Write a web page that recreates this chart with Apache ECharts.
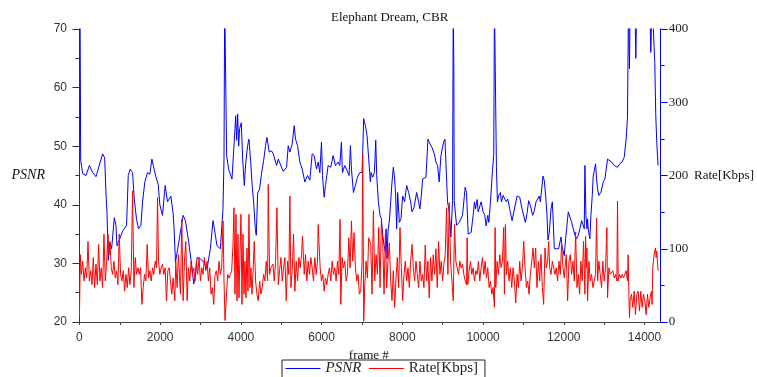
<!DOCTYPE html>
<html>
<head>
<meta charset="utf-8">
<script src="https://cdn.jsdelivr.net/npm/echarts@6/dist/echarts.min.js"></script>
<style>
  html, body { margin: 0; padding: 0; background: #fff; }
  #chart { width: 757px; height: 377px; }
</style>
</head>
<body>
<div id="chart"></div>
<script>
// PSNR per frame, [frame, dB]; values above 70 leave the plot (clipped)
var psnrPoints = [
  [15,75],[31,47.6],[81,45.3],[163,45],[246,46.7],[328,45.5],[410,44.8],[575,48.7],[625,48],[658,42],[682,38.8],[715,30.5],[756,33.5],[798,32.5],[864,37.8],[905,36.5],[930,33],[987,34],[1070,35.5],[1168,36.5],[1210,45],[1259,46.1],[1317,45.5],[1358,41],[1416,37.5],[1465,35.9],[1523,36.5],[1564,40.5],[1622,44],[1688,45.5],[1745,45.2],[1795,47.8],[1836,46.5],[1894,44.8],[1951,43.5],[1993,40],[2058,38.2],[2124,43.3],[2182,40.5],[2264,41.5],[2322,38.5],[2345,36],
  [2380,30.2],[2462,33.6],[2569,38.2],[2626,37.3],[2709,33.6],[2791,29.1],[2832,26.5],[2874,27.9],[2915,31],[2997,30.8],[3080,30.2],[3162,29.1],[3244,32.5],[3310,37.3],[3343,35.9],[3409,33],[3492,32.5],[3557,39.3],[3582,48],[3599,75],[3632,75],[3648,48.4],[3698,46],[3780,44.4],[3821,44.5],[3854,53],[3871,55.2],[3895,51],[3920,55.5],[3945,50],[3969,53],[4011,54],[4044,47.8],[4085,43.3],[4118,47],[4167,50.1],[4200,51.2],[4241,47.5],[4283,43],[4316,40.5],[4357,35.9],[4382,34.8],[4415,42],[4464,42.7],[4514,45.5],[4563,47.5],[4612,50.1],[4645,51.5],[4703,49],[4760,49.2],
  [4802,48.7],[4885,46.7],[4926,47.8],[5049,45.7],[5132,46.4],[5173,50.1],[5214,49],[5272,50.4],[5321,53.5],[5354,51.2],[5404,50.1],[5461,47.3],[5519,46.1],[5585,43.9],[5651,45],[5709,44.2],[5766,48.7],[5816,48.4],[5873,46.1],[5915,47.3],[5956,45.5],[5997,50.7],[6022,45],[6063,41.3],[6096,43.3],[6162,46.7],[6228,46.4],[6285,48.4],[6343,46.7],[6409,47.3],[6450,46.7],[6491,50.7],[6516,45.5],[6574,46.7],[6631,45.8],[6681,45],[6714,50.1],[6739,46.1],[6788,42.1],[6837,43.3],[6887,44.7],[6945,45.5],[7002,45.5],[7043,54.7],[7085,53.5],[7126,51.8],[7167,47.8],[7208,43.9],
  [7225,45.5],[7266,44.7],[7308,45.5],[7341,51],[7365,45],[7406,40.5],[7448,38.2],[7481,37.6],[7514,34.8],[7547,33.1],[7580,31.9],[7596,35.9],[7621,30.8],[7645,35.5],[7678,37.2],[7711,40.5],[7744,43.9],[7777,46.4],[7810,44.4],[7835,41.5],[7860,35.9],[7884,42.1],[7926,37],[7967,37.6],[8008,41.5],[8057,40.5],[8107,43.3],[8156,42.1],[8206,40.5],[8239,38.8],[8288,39.5],[8354,42.1],[8404,40.5],[8436,39.3],[8469,41.5],[8502,44.4],[8585,44.7],[8634,51.2],[8684,50.4],[8733,49.8],[8791,48.7],[8832,47.3],[8873,46.7],[8914,43.9],[8956,48.4],[9022,50.7],[9055,51.2],[9079,47.3],[9120,40.5],[9162,38.8],[9203,34.5],[9244,40.7],[9261,75],[9277,62],[9285,40.7],[9310,40.8],[9343,36.5],[9409,37],[9491,38.2],[9557,43],[9590,42.1],
  [9631,35],[9705,35.3],[9754,38.2],[9787,40.5],[9812,39.3],[9853,40.9],[9878,38.8],[9919,39],[9952,40.5],[10002,38.8],[10043,38.2],[10076,36.4],[10117,38.2],[10142,37],[10183,40.5],[10224,44.9],[10265,48.7],[10282,75],[10315,75],[10331,46.4],[10356,40.5],[10389,41.6],[10430,42.1],[10455,40.5],[10496,41.6],[10537,41],[10578,40.5],[10611,41],[10661,39.3],[10718,37.3],[10760,37.6],[10842,41.5],[10908,41.3],[10966,39.3],[11048,37],[11089,38.5],[11130,40.7],[11172,39.9],[11229,38.2],[11270,39],[11312,40.5],[11353,40.7],[11394,41.5],[11419,40.5],[11485,44.9],[11518,44.1],[11551,41.5],[11584,38.2],[11608,34],[11641,35.3],[11683,39.3],[11716,40.5],[11732,38.2],[11765,32.5],[11806,32.2],[11872,32.5],[11930,34.5],[11954,33],[12012,31.3],
  [12045,34.2],[12070,35.9],[12111,38.8],[12153,39],[12194,37],[12235,35.9],[12276,34.8],[12317,34.2],[12359,34.8],[12400,35.9],[12441,37.3],[12482,37.6],[12507,35.9],[12523,46.7],[12548,38.2],[12573,35.9],[12589,37.6],[12606,35.9],[12630,34.8],[12647,34.2],[12672,38.2],[12705,41.6],[12729,44.9],[12754,44.9],[12787,47],[12812,44.4],[12836,42.7],[12869,41.6],[12919,42.1],[12977,43.9],[13018,44.4],[13051,46.1],[13084,47.8],[13125,48.1],[13183,47.3],[13249,46.7],[13331,46.4],[13389,47],[13446,47.3],[13496,48.1],[13529,48.4],[13545,51.2],[13578,55],[13603,75],[13627,63.2],[13644,75],[13760,75],[13784,65],[13809,75],[14130,75],[14155,66],[14188,75],[14229,75],[14254,64.3],[14279,55.2],[14303,50.7],[14336,46.7]
];

// bit rate per frame, [frame, Kbps]
var ratePoints = [
  [0,6],[23,92],[48,65],[81,83],[114,56],[147,74],[180,60],[213,110],[246,56],[279,70],[312,51],[344,88],[377,47],[410,79],[443,51],[476,106],[509,56],[542,74],[575,47],[608,120],[641,56],[674,83],[707,120],[732,92],[756,110],[789,74],[822,65],[855,83],[888,60],[921,70],[954,51],[987,120],[1020,65],[1053,56],[1086,70],[1119,42],[1152,65],[1185,47],[1218,74],[1251,51],[1284,70],[1317,179],[1350,47],[1383,88],[1416,65],[1449,74],[1482,65],[1515,74],[1548,24],[1580,47],[1613,65],[1646,56],[1679,106],[1712,60],[1745,70],[1778,56],[1811,74],[1844,65],[1877,83],[1910,74],[1935,170],[1960,83],[1992,65],[2025,74],[2058,79],[2091,65],[2124,74],[2157,29],[2190,70],[2223,74],[2256,56],[2289,38],[2322,60],
  [2363,29],[2387,83],[2420,47],[2453,92],[2478,65],[2503,38],[2536,140],[2569,29],[2602,83],[2635,110],[2668,29],[2701,74],[2734,56],[2766,83],[2799,65],[2832,74],[2865,56],[2898,83],[2931,65],[2964,88],[2997,56],[3030,74],[3063,65],[3096,88],[3129,70],[3162,83],[3195,56],[3228,74],[3261,38],[3294,47],[3327,24],[3360,65],[3393,70],[3426,56],[3459,83],[3492,65],[3525,74],[3558,138],[3582,56],[3607,2],[3640,2],[3673,65],[3706,60],[3739,65],[3772,70],[3805,106],[3829,156],[3854,38],[3879,147],[3904,29],[3928,120],[3953,33],[3978,92],[4002,147],[4027,24],[4052,120],[4077,38],[4101,83],[4126,33],[4151,101],[4176,42],[4200,147],[4225,47],[4250,74],[4274,38],[4299,65],[4332,110],[4365,56],[4398,38],[4431,29],[4464,56],[4497,38],[4530,47],[4563,65],[4596,56],[4629,83],[4662,56],[4678,188],[4711,65],[4744,74],
  [4794,79],[4827,56],[4860,83],[4893,156],[4926,51],[4959,70],[4992,88],[5025,56],[5058,74],[5091,88],[5124,29],[5157,83],[5189,65],[5214,172],[5239,47],[5272,70],[5305,120],[5338,42],[5371,83],[5404,56],[5437,88],[5470,74],[5503,92],[5527,117],[5569,65],[5601,92],[5634,56],[5667,83],[5700,65],[5733,88],[5766,74],[5799,56],[5832,88],[5865,65],[5898,83],[5915,133],[5964,74],[5997,56],[6030,65],[6063,42],[6096,60],[6129,51],[6162,65],[6195,74],[6228,56],[6261,83],[6294,65],[6327,74],[6360,56],[6393,83],[6425,65],[6458,140],[6475,24],[6508,88],[6541,74],[6574,83],[6607,56],[6640,65],[6673,115],[6706,74],[6739,138],[6772,83],[6805,122],[6838,74],[6870,56],[6903,65],[6936,38],[6969,42],[7002,83],[7019,229],[7043,1],[7068,47],[7101,83],[7134,60],[7167,115],
  [7217,106],[7250,38],[7283,152],[7316,56],[7349,92],[7382,65],[7415,129],[7448,47],[7481,137],[7514,110],[7547,38],[7580,120],[7612,47],[7645,83],[7678,108],[7711,56],[7744,29],[7777,70],[7810,20],[7843,60],[7876,88],[7909,47],[7942,129],[7975,74],[8008,29],[8041,65],[8074,83],[8107,56],[8140,74],[8173,47],[8206,83],[8239,106],[8272,74],[8305,56],[8338,83],[8371,65],[8404,47],[8436,83],[8469,56],[8502,65],[8535,47],[8568,105],[8601,56],[8634,83],[8667,33],[8700,88],[8733,56],[8766,92],[8799,65],[8832,100],[8865,47],[8898,110],[8931,65],[8964,83],[8997,56],[9030,79],[9063,92],[9096,156],[9129,65],[9162,163],[9195,83],[9228,56],[9261,29],[9293,133],[9326,83],[9359,74],[9392,65],[9425,83],[9458,74],[9491,79],[9524,65],[9557,56],[9590,51],
  [9606,115],[9622,51],[9655,70],[9688,83],[9721,65],[9754,74],[9787,56],[9820,70],[9853,65],[9886,83],[9919,56],[9952,74],[9985,88],[10018,65],[10051,83],[10084,60],[10117,74],[10150,47],[10183,56],[10216,38],[10249,47],[10282,20],[10298,129],[10315,47],[10348,83],[10381,65],[10414,92],[10446,74],[10479,83],[10512,129],[10529,38],[10554,133],[10578,65],[10611,83],[10644,56],[10677,74],[10710,47],[10743,74],[10776,56],[10809,26],[10842,65],[10875,47],[10908,83],[10941,56],[10974,74],[11007,110],[11040,74],[11073,47],[11106,56],[11139,38],[11172,65],[11205,83],[11238,101],[11270,74],[11303,101],[11336,47],[11369,83],[11402,56],[11435,92],[11468,47],[11501,24],[11534,101],[11567,74],[11600,83],[11625,110],[11650,74],[11683,65],[11716,83],[11748,74],[11781,65],[11814,74],[11847,56],[11880,83],[11913,65],[11946,106],[11979,74],[12012,60],
  [12029,74],[12062,92],[12095,29],[12128,83],[12161,92],[12194,65],[12227,83],[12260,56],[12293,123],[12326,47],[12359,65],[12392,38],[12425,83],[12457,56],[12490,110],[12523,38],[12540,117],[12556,74],[12573,101],[12589,29],[12622,83],[12655,56],[12688,65],[12721,47],[12754,56],[12787,65],[12812,142],[12837,56],[12869,83],[12902,65],[12935,47],[12968,83],[13001,56],[13034,74],[13067,129],[13084,33],[13117,74],[13150,65],[13183,65],[13216,70],[13249,60],[13281,65],[13314,56],[13331,165],[13347,56],[13380,65],[13413,60],[13446,65],[13479,60],[13512,65],[13545,70],[13578,56],[13595,92],[13611,42],[13627,6],[13644,29],[13677,38],[13710,20],[13743,42],[13776,10],[13809,38],[13842,42],[13875,15],[13908,42],[13941,20],[13974,38],[14007,29],[14040,10],[14073,38],[14106,20],[14138,33],[14171,42],[14188,24],[14204,74],[14237,92],[14270,101],[14287,88],[14303,97],[14320,83],[14336,70]
];

var frameLabels = [0, 2000, 4000, 6000, 8000, 10000, 12000, 14000];
var frameTicks = [0, 1000, 2000, 3000, 4000, 5000, 6000, 7000, 8000, 9000, 10000, 11000, 12000, 13000, 14000];

var serif = "'Liberation Serif', 'DejaVu Serif', serif";
var sans = "'Liberation Sans', 'DejaVu Sans', sans-serif";
var blue = "#0000ff", red = "#ff0000";

var chart = echarts.init(document.getElementById("chart"));
chart.setOption({
    animation: false,
    backgroundColor: "#fff",
    title: {
        text: "Elephant Dream, CBR",
        left: 326, top: 6,
        textStyle: {fontFamily: serif, fontSize: 13, fontWeight: "normal", color: "#111"}
    },
    legend: {
        left: 282, top: 360,
        padding: [1, 7, 2, 3],
        itemWidth: 35, itemHeight: 14, itemGap: 7,
        borderColor: "#222", borderWidth: 1,
        // only the line part of the icon, no marker
        itemStyle: {color: "transparent", borderColor: "transparent", borderWidth: 0},
        lineStyle: {width: 1},
        data: ["PSNR", "Rate[Kbps]"],
        formatter: function (name) {
            return name == "PSNR" ? "{i|PSNR}" : name;
        },
        textStyle: {
            fontFamily: serif, fontSize: 15, color: "#222",
            rich: {i: {fontFamily: serif, fontSize: 15, fontStyle: "italic", color: "#222"}}
        }
    },
    grid: {left: 77, right: 95, top: 29, bottom: 55},
    xAxis: {
        type: "value", min: -60, max: 14400,
        name: "frame #", nameLocation: "middle", nameGap: 17,
        nameTextStyle: {fontFamily: serif, fontSize: 13, color: "#111"},
        axisLine: {show: true, lineStyle: {color: "#444"}},
        axisTick: {show: true, length: 3, customValues: frameTicks, lineStyle: {color: "#444"}},
        axisLabel: {
            customValues: frameLabels, margin: 10, fontFamily: sans, fontSize: 12, color: "#333",
            formatter: function (v) { return String(v); }
        },
        splitLine: {show: false}
    },
    yAxis: [{
        type: "value", min: 20, max: 70, interval: 10, position: "left",
        name: "PSNR", nameLocation: "middle", nameRotate: 0, nameGap: 32,
        nameTextStyle: {fontFamily: serif, fontSize: 14, fontStyle: "italic", color: "#111"},
        axisLine: {show: true, lineStyle: {color: "#333"}},
        axisTick: {show: true, length: 7, lineStyle: {color: "#333"}},
        minorTick: {show: true, splitNumber: 2, length: 4, lineStyle: {color: "#333"}},
        axisLabel: {margin: 10, fontFamily: sans, fontSize: 12, color: "#333"},
        splitLine: {show: false}
    }, {
        type: "value", min: 0, max: 400, interval: 100, position: "right",
        name: "Rate[Kbps]", nameLocation: "middle", nameRotate: 0, nameGap: 30,
        nameTextStyle: {fontFamily: serif, fontSize: 13, color: "#111"},
        axisLine: {show: true, lineStyle: {color: blue}},
        axisTick: {show: true, length: 7, lineStyle: {color: blue}},
        minorTick: {show: true, splitNumber: 2, length: 4, lineStyle: {color: blue}},
        axisLabel: {margin: 8, fontFamily: serif, fontSize: 13, color: "#222"},
        splitLine: {show: false}
    }],
    series: [{
        name: "PSNR", type: "line", yAxisIndex: 0,
        data: psnrPoints, symbol: "none", clip: true,
        lineStyle: {color: blue, width: 1}, itemStyle: {color: blue}
    }, {
        name: "Rate[Kbps]", type: "line", yAxisIndex: 1,
        data: ratePoints, symbol: "none", clip: true,
        lineStyle: {color: red, width: 1}, itemStyle: {color: red}
    }]
});
</script>
</body>
</html>
